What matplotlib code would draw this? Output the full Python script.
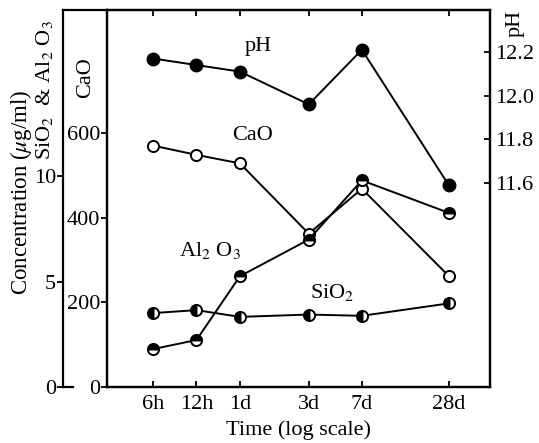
import matplotlib
matplotlib.use('Agg')
import matplotlib.pyplot as plt
from matplotlib.lines import Line2D

# Fonts: serif like the scanned figure
plt.rcParams['font.family'] = ['Liberation Serif', 'DejaVu Serif']
plt.rcParams['mathtext.fontset'] = 'stix'

# Data
time_days = [0.25, 0.5, 1, 3, 7, 28]
time_labels = ['6h', '12h', '1d', '3d', '7d', '28d']
ph = [12.17, 12.14, 12.11, 11.96, 12.21, 11.59]
cao = [570, 548, 528, 362, 468, 262]
al2o3 = [1.80, 2.23, 5.26, 7.0, 9.81, 8.27]
sio2 = [3.51, 3.65, 3.33, 3.44, 3.38, 3.97]

fig = plt.figure(figsize=(5.39, 4.43), dpi=100)
ax = fig.add_axes([0.1985, 0.1264, 0.7105, 0.851])  # CaO axis (inner left)
ax_ph = ax.twinx()  # pH on the right
ax_si = ax.twinx()  # SiO2 & Al2O3 (outer left)

lw = 1.4
# CaO, open circles
ax.plot(time_days, cao, color='black', lw=lw, marker='o', ms=8,
        mfc='white', mec='black', mew=1.4, zorder=3)
# pH, filled circles
ax_ph.plot(time_days, ph, color='black', lw=lw, marker='o', ms=9,
           mfc='black', mec='black', zorder=3)
# Al2O3, half filled (top)
ax_si.plot(time_days, al2o3, color='black', lw=lw, marker='o', ms=8,
           fillstyle='top', mfc='black', mfcalt='white', mec='black', mew=1.4, zorder=3)
# SiO2, half filled (left)
ax_si.plot(time_days, sio2, color='black', lw=lw, marker='o', ms=8,
           fillstyle='left', mfc='black', mfcalt='white', mec='black', mew=1.4, zorder=3)

fs = 16  # tick and label size

# x axis, log scale
ax.set_xscale('log')
ax.set_xlim(0.12, 54)
ax.set_xticks(time_days)
ax.set_xticklabels(time_labels)
ax.xaxis.set_minor_locator(matplotlib.ticker.NullLocator())
ax.tick_params(axis='x', which='both', direction='in', top=True, length=4, width=1.3,
               labelsize=fs, pad=6)
ax.set_xlabel('Time (log scale)', fontsize=fs, labelpad=4)

# CaO axis
ax.set_ylim(0, 890)
ax.set_yticks([0, 200, 400, 600])
ax.tick_params(axis='y', direction='out', length=4, width=1.3, labelsize=fs, pad=1)

# pH axis
ax_ph.set_ylim(10.666, 12.392)
ax_ph.set_yticks([11.6, 11.8, 12.0, 12.2])
ax_ph.set_yticklabels(['11.6', '11.8', '12.0', '12.2'])
ax_ph.tick_params(axis='y', direction='in', length=4, width=1.3, labelsize=fs, pad=4)

# SiO2 & Al2O3 axis, moved out to the left
ax_si.set_ylim(0, 17.9)
ax_si.set_yticks([0, 5, 10])
ax_si.yaxis.set_ticks_position('left')
ax_si.yaxis.set_label_position('left')
ax_si.spines['left'].set_position(('axes', -0.1149))
for s in ['right', 'top', 'bottom']:
    ax_si.spines[s].set_visible(False)
ax_si.spines['left'].set_visible(True)
ax_si.tick_params(axis='y', direction='out', length=4, width=1.3, labelsize=fs, pad=1)

for a in [ax, ax_ph, ax_si]:
    for s in a.spines.values():
        s.set_linewidth(1.6)

# box line joining the two left axes at the top, and foot at the bottom
ax.add_line(Line2D([-0.1149, 0], [1, 1], transform=ax.transAxes, color='black',
                   lw=1.6, clip_on=False))
ax.add_line(Line2D([-0.1149, -0.09], [0, 0], transform=ax.transAxes, color='black',
                   lw=1.6, clip_on=False))

# series labels
ax.text(0.394, 0.902, 'pH', transform=ax.transAxes, fontsize=fs, ha='center', va='center')
ax.text(0.381, 0.666, 'CaO', transform=ax.transAxes, fontsize=fs, ha='center', va='center')
ax.text(0.269, 0.363, r'Al$_2$ O$_3$', transform=ax.transAxes, fontsize=fs,
        ha='center', va='center')
ax.text(0.587, 0.252, r'SiO$_2$', transform=ax.transAxes, fontsize=fs,
        ha='center', va='center')

# axis titles
fig.text(0.039, 0.567, r'Concentration ($\mu$g/ml)', rotation=90, fontsize=16.5,
         ha='center', va='center')
fig.text(0.082, 0.797, r'SiO$_2$  & Al$_2$ O$_3$', rotation=90, fontsize=fs,
         ha='center', va='center')
fig.text(0.158, 0.824, 'CaO', rotation=90, fontsize=fs, ha='center', va='center')
fig.text(0.955, 0.946, 'pH', rotation=90, fontsize=fs, ha='center', va='center')

fig.savefig('out.png', dpi=100)
